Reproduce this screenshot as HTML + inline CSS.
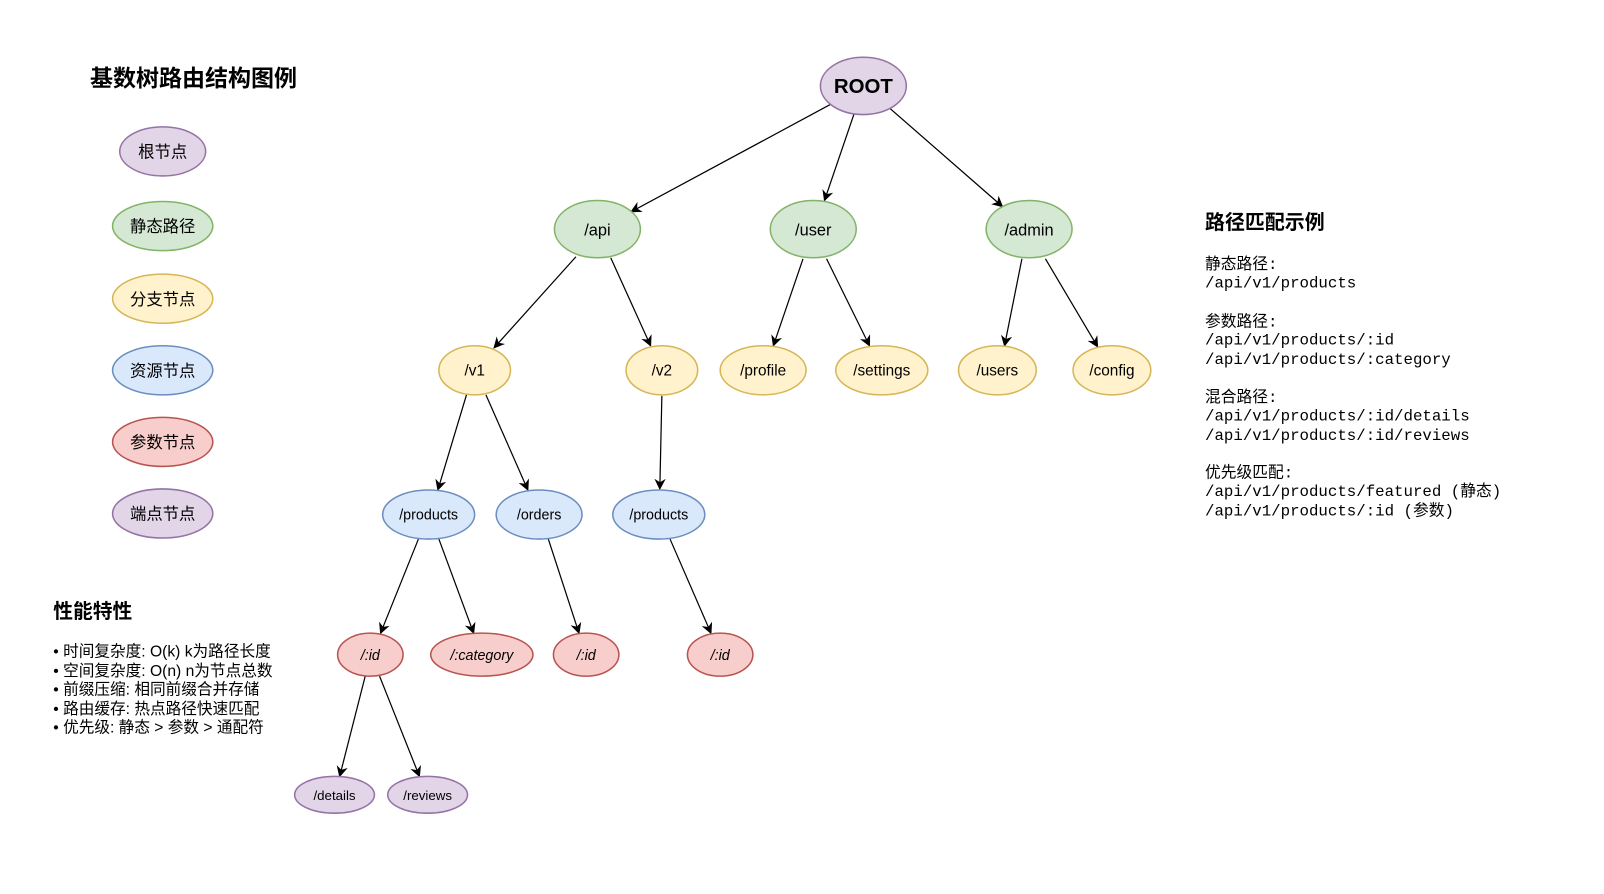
<!DOCTYPE html>
<html><head><meta charset="utf-8"><style>
html,body{margin:0;padding:0;background:#fff;}
svg{display:block;}
text{font-family:"Liberation Sans","Noto Sans CJK SC",sans-serif;fill:#000;}
.m{font-family:"Liberation Mono","Noto Sans CJK SC",monospace;font-size:15.4px;}
</style></head><body>
<svg width="1604" height="894" viewBox="0 0 1568 874" xmlns="http://www.w3.org/2000/svg">
<defs><marker id="a" viewBox="0 0 10 10" refX="9" refY="5" markerWidth="11" markerHeight="11" orient="auto" markerUnits="userSpaceOnUse"><path d="M0,0 L10,5 L0,10 L3,5 z" fill="#000"/></marker></defs>
<rect width="1568" height="874" fill="#fff"/>
<text x="88" y="84" font-size="22.5" font-weight="bold">基数树路由结构图例</text>
<g stroke-width="1.5" font-size="16" text-anchor="middle">
<ellipse cx="159" cy="148" rx="42" ry="24" fill="#e1d5e7" stroke="#9673a6"/><text x="159" y="154">根节点</text>
<ellipse cx="159" cy="221" rx="49" ry="24" fill="#d5e8d4" stroke="#82b366"/><text x="159" y="227">静态路径</text>
<ellipse cx="159" cy="292" rx="49" ry="24" fill="#fff2cc" stroke="#d6b656"/><text x="159" y="298">分支节点</text>
<ellipse cx="159" cy="362" rx="49" ry="24" fill="#dae8fc" stroke="#6c8ebf"/><text x="159" y="368">资源节点</text>
<ellipse cx="159" cy="432" rx="49" ry="24" fill="#f8cecc" stroke="#b85450"/><text x="159" y="438">参数节点</text>
<ellipse cx="159" cy="502" rx="49" ry="24" fill="#e1d5e7" stroke="#9673a6"/><text x="159" y="508">端点节点</text>
</g>
<g stroke="#000" stroke-width="1.2" marker-end="url(#a)">
<line x1="812" y1="102" x2="617" y2="207"/><line x1="835" y1="111" x2="806" y2="196"/><line x1="870" y1="106" x2="980" y2="202"/>
<line x1="563" y1="251" x2="483" y2="340"/><line x1="597" y1="252" x2="636" y2="338"/>
<line x1="785" y1="253" x2="756" y2="338"/><line x1="808" y1="253" x2="850" y2="338"/>
<line x1="999" y1="253" x2="982" y2="338"/><line x1="1022" y1="253" x2="1073" y2="339"/>
<line x1="456" y1="386" x2="428" y2="479"/><line x1="475" y1="386" x2="516" y2="479"/><line x1="647" y1="387" x2="645" y2="478"/>
<line x1="409" y1="527" x2="372" y2="619"/><line x1="429" y1="527" x2="463" y2="619"/><line x1="536" y1="527" x2="566" y2="619"/><line x1="655" y1="527" x2="695" y2="619"/>
<line x1="357" y1="661" x2="332" y2="759"/><line x1="371" y1="661" x2="410" y2="759"/>
</g>
<g stroke-width="1.5" text-anchor="middle">
<ellipse cx="844" cy="84" rx="42" ry="28" fill="#e1d5e7" stroke="#9673a6"/><text x="844" y="91" font-size="20" font-weight="bold">ROOT</text>
<g font-size="16">
<ellipse cx="584" cy="224" rx="42" ry="28" fill="#d5e8d4" stroke="#82b366"/><text x="584" y="230">/api</text>
<ellipse cx="795" cy="224" rx="42" ry="28" fill="#d5e8d4" stroke="#82b366"/><text x="795" y="230">/user</text>
<ellipse cx="1006" cy="224" rx="42" ry="28" fill="#d5e8d4" stroke="#82b366"/><text x="1006" y="230">/admin</text>
</g>
<g font-size="15" fill="#fff2cc" stroke="#d6b656">
<ellipse cx="464" cy="362" rx="35" ry="24"/><ellipse cx="647" cy="362" rx="35" ry="24"/><ellipse cx="746" cy="362" rx="42" ry="24"/><ellipse cx="862" cy="362" rx="45" ry="24"/><ellipse cx="975" cy="362" rx="38" ry="24"/><ellipse cx="1087" cy="362" rx="38" ry="24"/>
</g>
<g font-size="15"><text x="464" y="367">/v1</text><text x="647" y="367">/v2</text><text x="746" y="367">/profile</text><text x="862" y="367">/settings</text><text x="975" y="367">/users</text><text x="1087" y="367">/config</text></g>
<g fill="#dae8fc" stroke="#6c8ebf"><ellipse cx="419" cy="503" rx="45" ry="24"/><ellipse cx="527" cy="503" rx="42" ry="24"/><ellipse cx="644" cy="503" rx="45" ry="24"/></g>
<g font-size="14"><text x="419" y="508">/products</text><text x="527" y="508">/orders</text><text x="644" y="508">/products</text></g>
<g fill="#f8cecc" stroke="#b85450"><ellipse cx="362" cy="640" rx="32" ry="21"/><ellipse cx="471" cy="640" rx="50" ry="21"/><ellipse cx="573" cy="640" rx="32" ry="21"/><ellipse cx="704" cy="640" rx="32" ry="21"/></g>
<g font-size="14" font-style="italic"><text x="362" y="645">/:id</text><text x="471" y="645">/:category</text><text x="573" y="645">/:id</text><text x="704" y="645">/:id</text></g>
<g fill="#e1d5e7" stroke="#9673a6"><ellipse cx="327" cy="777" rx="39" ry="18"/><ellipse cx="418" cy="777" rx="39" ry="18"/></g>
<g font-size="13"><text x="327" y="782">/details</text><text x="418" y="782">/reviews</text></g>
</g>
<text x="1178" y="224" font-size="19.5" font-weight="bold">路径匹配示例</text>
<g>
<text class="m" x="1178" y="263">静态路径:</text><text class="m" x="1178" y="281">/api/v1/products</text>
<text class="m" x="1178" y="319">参数路径:</text><text class="m" x="1178" y="337">/api/v1/products/:id</text><text class="m" x="1178" y="356">/api/v1/products/:category</text>
<text class="m" x="1178" y="393">混合路径:</text><text class="m" x="1178" y="411">/api/v1/products/:id/details</text><text class="m" x="1178" y="430">/api/v1/products/:id/reviews</text>
<text class="m" x="1178" y="467">优先级匹配:</text><text class="m" x="1178" y="485">/api/v1/products/featured (静态)</text><text class="m" x="1178" y="504">/api/v1/products/:id (参数)</text>
</g>
<text x="52" y="604" font-size="19.3" font-weight="bold">性能特性</text>
<g font-size="15.3">
<text x="52" y="642">• 时间复杂度: O(k) k为路径长度</text>
<text x="52" y="661">• 空间复杂度: O(n) n为节点总数</text>
<text x="52" y="679">• 前缀压缩: 相同前缀合并存储</text>
<text x="52" y="698">• 路由缓存: 热点路径快速匹配</text>
<text x="52" y="716">• 优先级: 静态 &gt; 参数 &gt; 通配符</text>
</g>
</svg>
</body></html>
